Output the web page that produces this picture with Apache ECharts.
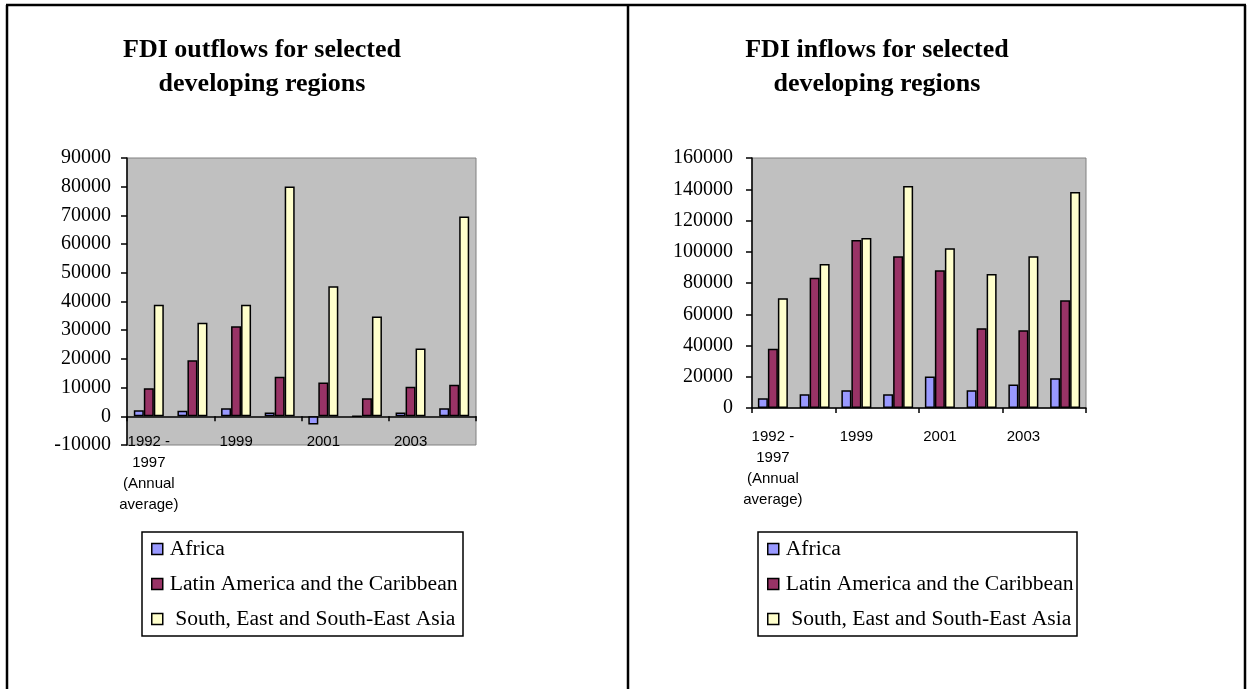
<!DOCTYPE html>
<html>
<head>
<meta charset="utf-8">
<script src="https://cdn.jsdelivr.net/npm/echarts@6/dist/echarts.min.js"></script>
<style>
  html, body { margin: 0; padding: 0; background: #fff; }
  #main { width: 1248px; height: 689px; }
</style>
</head>
<body>
<div id="main"></div>
<script>
// categories (years)
var years = ['1992 -\n1997\n(Annual\naverage)', '1998', '1999', '2000', '2001', '2002', '2003', '2004'];
var seriesNames = ['Africa', 'Latin America and the Caribbean', ' South, East and South-East Asia'];
var seriesColors = ['#9999FF', '#993366', '#FFFFCC'];

// FDI outflows
var outAfrica = [2100, 1900, 2800, 1300, -2900, 100, 1300, 2800];
var outLatin = [9800, 19500, 31400, 13800, 11800, 6300, 10300, 11000];
var outAsia = [38900, 32600, 38900, 80100, 45300, 34800, 23600, 69600];

// FDI inflows
var inAfrica = [6200, 8800, 11300, 8800, 20100, 11300, 15000, 19000];
var inLatin = [38000, 83300, 107500, 97200, 88200, 51100, 49800, 69000];
var inAsia = [70300, 92100, 108800, 142100, 102300, 85700, 97200, 138200];

var serif = '"Liberation Serif", "Times New Roman", serif';
var sans = '"Liberation Sans", Arial, sans-serif';

var myChart = echarts.init(document.getElementById('main'));

function makeBars(data, gridIdx) {
    var list = [];
    for (var i = 0; i < data.length; i++) {
        list.push({
            name: seriesNames[i],
            type: 'bar',
            xAxisIndex: gridIdx,
            yAxisIndex: gridIdx,
            barWidth: 10,
            barGap: '0%',
            data: data[i],
            itemStyle: { color: seriesColors[i], borderColor: '#000', borderWidth: 1.5 },
            animation: false
        });
    }
    return list;
}

function xAxisOf(gridIdx, margin) {
    return {
        type: 'category',
        gridIndex: gridIdx,
        data: years,
        axisLine: { onZero: true, lineStyle: { color: '#000', width: 1.5 } },
        axisTick: { show: true, inside: false, length: 5, lineStyle: { color: '#000', width: 1.5 } },
        axisLabel: { interval: 1, margin: margin, color: '#000', fontFamily: sans, fontSize: 15, lineHeight: 21 }
    };
}

function yAxisOf(gridIdx, min, max, step, margin) {
    return {
        type: 'value',
        gridIndex: gridIdx,
        min: min,
        max: max,
        interval: step,
        axisLine: { show: true, lineStyle: { color: '#000', width: 1.5 } },
        axisTick: { show: true, length: 6, lineStyle: { color: '#000', width: 1.5 } },
        splitLine: { show: false },
        axisLabel: {
            margin: margin, color: '#000', fontFamily: serif, fontSize: 20,
            formatter: function (v) { return String(v); }
        }
    };
}

function legendOf(left, top) {
    return {
        orient: 'vertical',
        left: left,
        top: top,
        padding: 0,
        itemGap: 11,
        itemWidth: 11,
        itemHeight: 11,
        icon: 'rect',
        data: seriesNames,
        itemStyle: { borderColor: '#000', borderWidth: 1.5 },
        textStyle: { fontFamily: serif, fontSize: 21.6, color: '#000', lineHeight: 24, padding: [0, 0, 0, 2] },
        selectedMode: false
    };
}

var titleStyle = { fontFamily: serif, fontSize: 26, fontWeight: 'bold', color: '#000', lineHeight: 34 };

var option = {
    backgroundColor: '#fff',
    animation: false,
    title: [
        { text: 'FDI outflows for selected\ndeveloping regions', left: 262, top: 33, padding: 0, textAlign: 'center', textStyle: titleStyle },
        { text: 'FDI inflows for selected\ndeveloping regions', left: 877, top: 33, padding: 0, textAlign: 'center', textStyle: titleStyle }
    ],
    legend: [legendOf(151, 537), legendOf(767, 537)],
    grid: [
        { left: 127, top: 158, width: 349, height: 287, show: true, backgroundColor: '#C0C0C0', borderColor: '#808080', borderWidth: 1 },
        { left: 752, top: 158, width: 334, height: 250, show: true, backgroundColor: '#C0C0C0', borderColor: '#808080', borderWidth: 1 }
    ],
    xAxis: [xAxisOf(0, -14), xAxisOf(1, 18)],
    yAxis: [yAxisOf(0, -10000, 90000, 10000, 16), yAxisOf(1, 0, 160000, 20000, 19)],
    series: makeBars([outAfrica, outLatin, outAsia], 0).concat(makeBars([inAfrica, inLatin, inAsia], 1)),
    graphic: [
        // panel frame
        { type: 'line', shape: { x1: 6, y1: 5, x2: 1246, y2: 5 }, style: { stroke: '#000', lineWidth: 2.5 } },
        { type: 'line', shape: { x1: 7, y1: 5, x2: 7, y2: 689 }, style: { stroke: '#000', lineWidth: 2.5 } },
        { type: 'line', shape: { x1: 628, y1: 5, x2: 628, y2: 689 }, style: { stroke: '#000', lineWidth: 2.5 } },
        { type: 'line', shape: { x1: 1245, y1: 5, x2: 1245, y2: 689 }, style: { stroke: '#000', lineWidth: 2.5 } },
        // legend boxes
        { type: 'rect', shape: { x: 142, y: 532, width: 321, height: 104 }, style: { fill: 'none', stroke: '#000', lineWidth: 1.5 }, z: 100 },
        { type: 'rect', shape: { x: 758, y: 532, width: 319, height: 104 }, style: { fill: 'none', stroke: '#000', lineWidth: 1.5 }, z: 100 }
    ]
};

myChart.setOption(option);
</script>
</body>
</html>
